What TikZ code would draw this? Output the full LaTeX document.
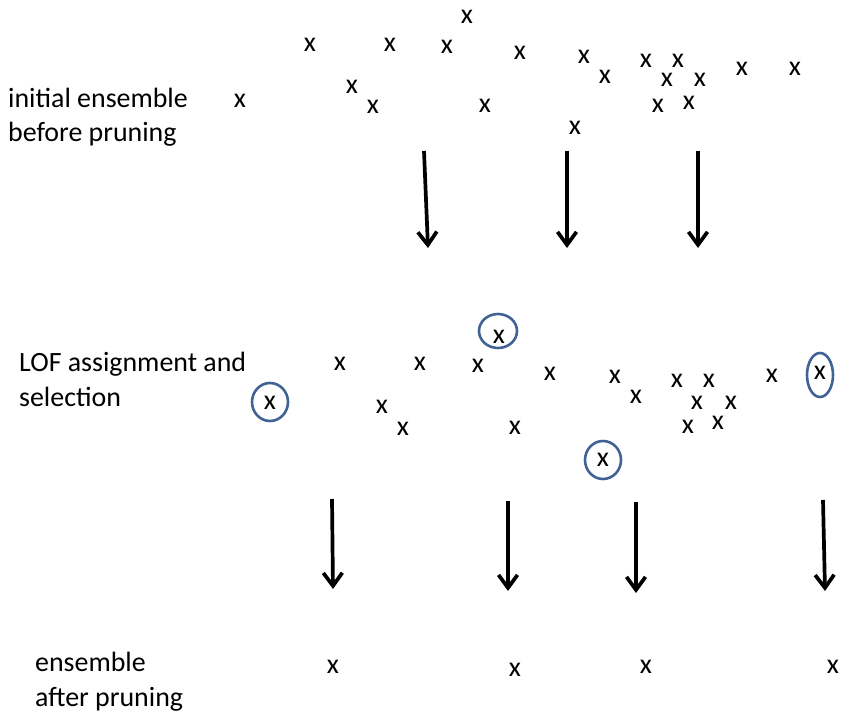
\documentclass[tikz,border=0pt]{standalone}
\usepackage{fontspec}
\setmainfont{Carlito}
\usetikzlibrary{arrows.meta}
\definecolor{ringblue}{RGB}{64,98,148}

\begin{document}
\begin{tikzpicture}[x=1bp,y=-1bp,
  every node/.style={inner sep=0pt,font=\fontsize{28}{35}\selectfont},
  lbl/.style={anchor=base west,align=left},
  obs/.style={anchor=center},
  ring/.style={draw=ringblue,line width=2.6bp},
  down/.style={line width=3.7bp,-{Straight Barb[length=13bp,width=19bp]}}]
\useasboundingbox (0,0) rectangle (843,712);

% stage labels (base anchor sits on the last line)
\node[lbl] (l1) at (8,142) {initial ensemble\\before pruning};
\node[lbl] (l2) at (19,406) {LOF assignment and\\selection};
\node[lbl] (l3) at (35,706) {ensemble\\after pruning};

% initial ensemble
\foreach \px/\py [count=\i] in {467/17,310/45,390/45,447/47,520/53,584/57,605/77,
  646/61,678/61,667/80,700/80,742/69,795/69,352/87,373/107,485/106,240/101,
  658/106,689/103,575/128}
  \node[obs] (a\i) at (\px,\py) {x};

% after LOF scoring
\foreach \px/\py [count=\i] in {340/364,420/364,478/366,550/374,615/377,636/397,
  677/381,709/381,697/403,731/403,772/376,820/373,270/403,382/407,403/429,
  515/428,688/427,718/423,499/337,603/460}
  \node[obs] (b\i) at (\px,\py) {x};

% selected outliers
\draw[ring] (498,331) ellipse (19 and 17);
\draw[ring] (270,402) ellipse (18 and 19);
\draw[ring] (820,375) ellipse (13 and 22);
\draw[ring] (603,460) ellipse (18 and 19);

% pruned ensemble
\foreach \px/\py [count=\i] in {333/667,515/670,646/667,833/667}
  \node[obs] (c\i) at (\px,\py) {x};

% arrows between the stages
\coordinate (u1) at (424,151); \coordinate (v1) at (428,248);
\coordinate (u2) at (567,151); \coordinate (v2) at (567,248);
\coordinate (u3) at (698,151); \coordinate (v3) at (698,248);
\coordinate (s1) at (332,499); \coordinate (t1) at (333,589);
\coordinate (s2) at (508,501); \coordinate (t2) at (508,591);
\coordinate (s3) at (636,502); \coordinate (t3) at (636,593);
\coordinate (s4) at (823,500); \coordinate (t4) at (825,591);
\path[down]
(u1) edge (v1) (u2) edge (v2) (u3) edge (v3)
(s1) edge (t1) (s2) edge (t2) (s3) edge (t3) (s4) edge (t4)
;
\end{tikzpicture}
\end{document}
